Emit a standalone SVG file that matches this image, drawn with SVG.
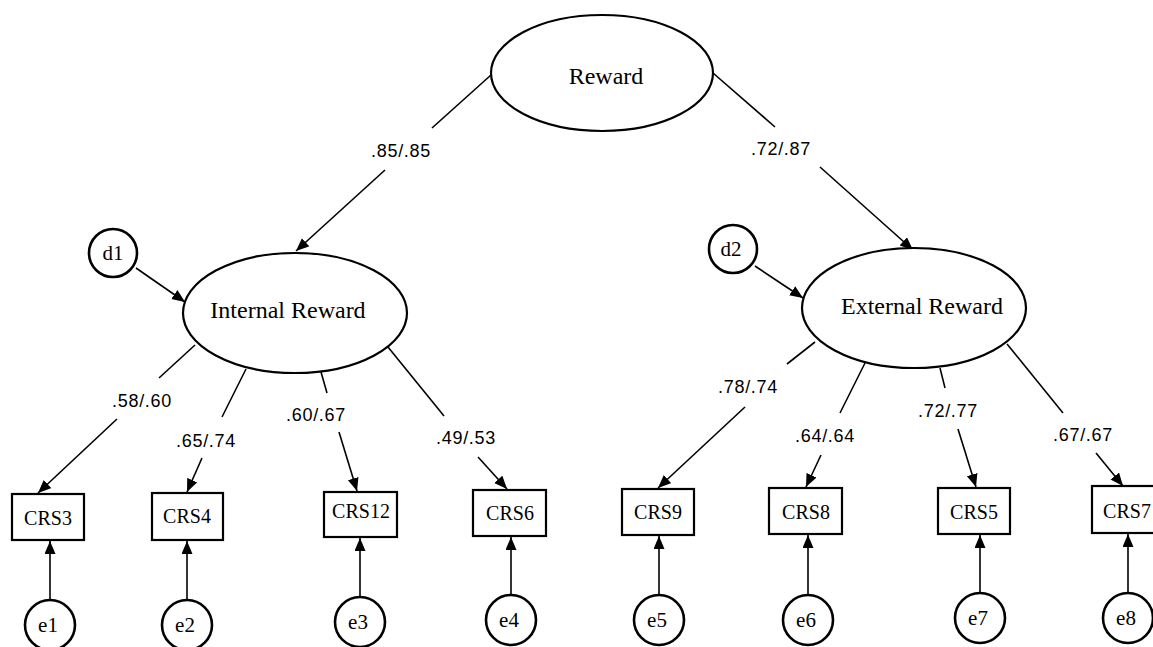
<svg xmlns="http://www.w3.org/2000/svg" width="1153" height="647" viewBox="0 0 1153 647">
<style>
.lat{fill:#fff;stroke:#000;stroke-width:2.2}
.box{fill:#fff;stroke:#000;stroke-width:2.2}
.err{fill:#fff;stroke:#000;stroke-width:2.6}
.nt{font-family:"Liberation Serif","Times New Roman",serif;font-size:24px;fill:#000;text-anchor:middle}
.bt{font-family:"Liberation Serif","Times New Roman",serif;font-size:20px;fill:#000;text-anchor:middle}
.et{font-family:"Liberation Serif","Times New Roman",serif;font-size:21px;fill:#000;text-anchor:middle}
.lb{font-family:"Liberation Sans",Arial,sans-serif;font-size:18px;letter-spacing:0.7px;fill:#000;text-anchor:middle}
.ln{stroke:#000;stroke-width:1.6;fill:none}
.ar{stroke:#000;stroke-width:1.6;fill:none;marker-end:url(#ah)}
</style>
<defs>
<marker id="ah" markerUnits="userSpaceOnUse" markerWidth="14" markerHeight="12" refX="13" refY="5.5" orient="auto">
<path d="M0,0 L13,5.5 L0,11 z" fill="#000"/>
</marker>
</defs>
<rect width="1153" height="647" fill="#fff"/>
<g id="connectors">
<line class="ln" x1="491" y1="75" x2="432" y2="128"/>
<line class="ar" x1="385" y1="170" x2="296" y2="251"/>
<line class="ln" x1="713" y1="73" x2="775" y2="127"/>
<line class="ar" x1="820" y1="167" x2="913" y2="250"/>
<line class="ar" x1="136" y1="268" x2="185" y2="302"/>
<line class="ar" x1="755" y1="266" x2="803" y2="298"/>
<line class="ln" x1="195" y1="345" x2="159" y2="378"/>
<line class="ar" x1="117" y1="419" x2="38" y2="493"/>
<line class="ln" x1="246" y1="369" x2="222" y2="417"/>
<line class="ar" x1="202" y1="458" x2="187" y2="492"/>
<line class="ln" x1="321" y1="372" x2="327" y2="393"/>
<line class="ar" x1="339" y1="432" x2="357" y2="491"/>
<line class="ln" x1="388" y1="347" x2="444" y2="416"/>
<line class="ar" x1="478" y1="457" x2="507" y2="489"/>
<line class="ln" x1="815" y1="342" x2="787" y2="364"/>
<line class="ar" x1="745" y1="407" x2="658" y2="488"/>
<line class="ln" x1="865" y1="363" x2="840" y2="413"/>
<line class="ar" x1="821" y1="455" x2="806" y2="487"/>
<line class="ln" x1="940" y1="368" x2="945" y2="388"/>
<line class="ar" x1="958" y1="429" x2="976" y2="487"/>
<line class="ln" x1="1007" y1="344" x2="1063" y2="413"/>
<line class="ar" x1="1096" y1="453" x2="1123" y2="486"/>
<line class="ar" x1="50" y1="600" x2="50" y2="541"/>
<line class="ar" x1="187" y1="600" x2="187" y2="541"/>
<line class="ar" x1="360" y1="597" x2="360" y2="538"/>
<line class="ar" x1="511" y1="595" x2="511" y2="537"/>
<line class="ar" x1="659" y1="595" x2="659" y2="536"/>
<line class="ar" x1="808" y1="595" x2="808" y2="535"/>
<line class="ar" x1="980" y1="593" x2="980" y2="535"/>
<line class="ar" x1="1128" y1="593" x2="1128" y2="534"/>
</g>
<g id="labels">
<text class="lb" x="401" y="157">.85/.85</text>
<text class="lb" x="781" y="155">.72/.87</text>
<text class="lb" x="142" y="407">.58/.60</text>
<text class="lb" x="206" y="447">.65/.74</text>
<text class="lb" x="316" y="421">.60/.67</text>
<text class="lb" x="466" y="444">.49/.53</text>
<text class="lb" x="748" y="393">.78/.74</text>
<text class="lb" x="825" y="442">.64/.64</text>
<text class="lb" x="948" y="417">.72/.77</text>
<text class="lb" x="1083" y="441">.67/.67</text>
</g>
<g id="reward"><ellipse class="lat" cx="602" cy="73" rx="111" ry="58"/><text class="nt" x="606" y="84">Reward</text></g>
<g id="internal"><ellipse class="lat" cx="295" cy="313" rx="112" ry="60"/><text class="nt" x="288" y="318">Internal Reward</text></g>
<g id="external"><ellipse class="lat" cx="914" cy="308" rx="112" ry="60"/><text class="nt" x="922" y="314">External Reward</text></g>
<g id="d1"><circle class="err" cx="113" cy="253" r="24"/><text class="et" x="113" y="260">d1</text></g>
<g id="d2"><circle class="err" cx="733" cy="249" r="24"/><text class="et" x="731" y="256">d2</text></g>
<g id="CRS3"><rect class="box" x="12" y="494" width="72" height="46"/><text class="bt" x="48" y="525">CRS3</text></g>
<g id="CRS4"><rect class="box" x="152" y="493" width="71" height="47"/><text class="bt" x="187" y="523">CRS4</text></g>
<g id="CRS12"><rect class="box" x="324" y="492" width="73" height="45"/><text class="bt" x="361" y="518">CRS12</text></g>
<g id="CRS6"><rect class="box" x="473" y="490" width="73" height="46"/><text class="bt" x="510" y="520">CRS6</text></g>
<g id="CRS9"><rect class="box" x="622" y="489" width="72" height="46"/><text class="bt" x="658" y="519">CRS9</text></g>
<g id="CRS8"><rect class="box" x="769" y="488" width="73" height="46"/><text class="bt" x="806" y="519">CRS8</text></g>
<g id="CRS5"><rect class="box" x="938" y="488" width="72" height="46"/><text class="bt" x="974" y="519">CRS5</text></g>
<g id="CRS7"><rect class="box" x="1092" y="486" width="72" height="47"/><text class="bt" x="1127" y="518">CRS7</text></g>
<g id="e1"><circle class="err" cx="50" cy="625" r="25"/><text class="et" x="48" y="632">e1</text></g>
<g id="e2"><circle class="err" cx="187" cy="625" r="25"/><text class="et" x="185" y="632">e2</text></g>
<g id="e3"><circle class="err" cx="360" cy="622" r="25"/><text class="et" x="358" y="629">e3</text></g>
<g id="e4"><circle class="err" cx="511" cy="620" r="25"/><text class="et" x="509" y="627">e4</text></g>
<g id="e5"><circle class="err" cx="659" cy="620" r="25"/><text class="et" x="657" y="627">e5</text></g>
<g id="e6"><circle class="err" cx="808" cy="620" r="25"/><text class="et" x="806" y="627">e6</text></g>
<g id="e7"><circle class="err" cx="980" cy="618" r="25"/><text class="et" x="978" y="625">e7</text></g>
<g id="e8"><circle class="err" cx="1128" cy="618" r="25"/><text class="et" x="1126" y="625">e8</text></g>
</svg>
